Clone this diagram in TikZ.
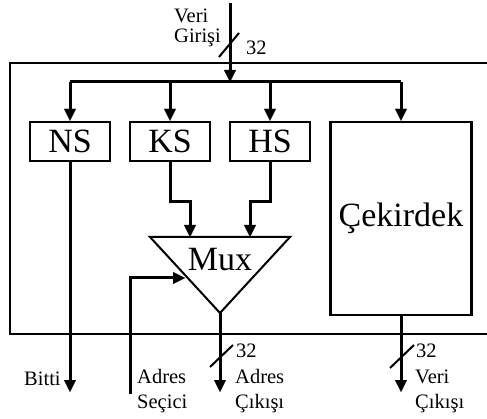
\documentclass[tikz,border=0pt]{standalone}
\usepackage{fontspec}
\setmainfont{Liberation Serif}
\usetikzlibrary{arrows.meta}
\begin{document}
\begin{tikzpicture}[x=1pt,y=-1pt,
  arr/.style={line width=3pt,-{Triangle[length=12pt,width=12pt,line width=0.1pt]}},
  wire/.style={line width=3pt},
  blk/.style={draw,line width=2.4pt,rectangle,inner sep=0pt,font=\fontsize{34}{36}\selectfont},
  slash/.style={line width=2pt},
  lbl/.style={inner sep=0pt,anchor=base west,align=left,font=\fontsize{20.5}{20}\selectfont},
  lblb/.style={inner sep=0pt,anchor=base west,align=left,font=\fontsize{20.5}{25}\selectfont}]
\useasboundingbox (0,0) rectangle (487,419);
% outer box
\draw[line width=2.5pt] (10,63) rectangle (492,334);
% blocks
\node[blk,minimum width=80pt,minimum height=39pt] (ns) at (70,141.5) {NS};
\node[blk,minimum width=80pt,minimum height=39pt] (ks) at (170,141.5) {KS};
\node[blk,minimum width=80pt,minimum height=39pt] (hs) at (270,141.5) {HS};
\node[blk,minimum width=141pt,minimum height=193pt] (cek) at (401,218.5) {Çekirdek};
% mux
\coordinate (mtl) at (150,237);
\coordinate (mtr) at (290,237);
\coordinate (map) at (220,313);
\draw[line width=2pt,line join=miter] (mtl) -- (mtr) -- (map) -- cycle;
\node[inner sep=0pt,anchor=base,font=\fontsize{34}{36}\selectfont] (mux) at (220,271) {Mux};
\coordinate (muxk) at (190,237);
\coordinate (muxh) at (250,237);
\coordinate (muxs) at (185,278);
% input
\coordinate (vin) at (230,3);
\coordinate (bus) at (230,82);
\draw[arr] (vin) -- (bus);
\draw[slash] (219,57) -- (239,33);
\node[lbl] (vg) at (174,43) {Veri\\Girişi};
\node[lbl] (n32a) at (246,55) {32};
% bus distribution
\coordinate (busl) at (70,82);
\coordinate (busr) at (401,82);
\draw[wire] (busl) -- (busr);
\draw[arr] (busl) -- (ns.north);
\draw[arr] (ks.north |- bus) -- (ks.north);
\draw[arr] (hs.north |- bus) -- (hs.north);
\draw[arr] (busr) -- (cek.north);
% KS, HS to mux
\draw[arr] (ks.south) -- ++(0,39) -| (muxk);
\draw[arr] (hs.south) -- ++(0,39) -| (muxh);
% select
\coordinate (sel) at (130,394);
\draw[arr] (sel) |- (muxs);
\node[lblb] (as) at (137,408) {Adres\\Seçici};
% outputs
\coordinate (bitti) at (70,392);
\draw[arr] (ns.south) -- (bitti);
\node[lbl] (bt) at (24,385) {Bitti};
\coordinate (aout) at (220,392);
\draw[arr] (map) -- (aout);
\draw[slash] (210,367) -- (233,345);
\node[lbl] (n32b) at (236,357) {32};
\node[lblb] (ac) at (235,408) {Adres\\Çıkışı};
\coordinate (vout) at (401,392);
\draw[arr] (cek.south) -- (vout);
\draw[slash] (390,368) -- (414,345);
\node[lbl] (n32c) at (416,357) {32};
\node[lblb] (vc) at (415,408) {Veri\\Çıkışı};
\end{tikzpicture}
\end{document}
